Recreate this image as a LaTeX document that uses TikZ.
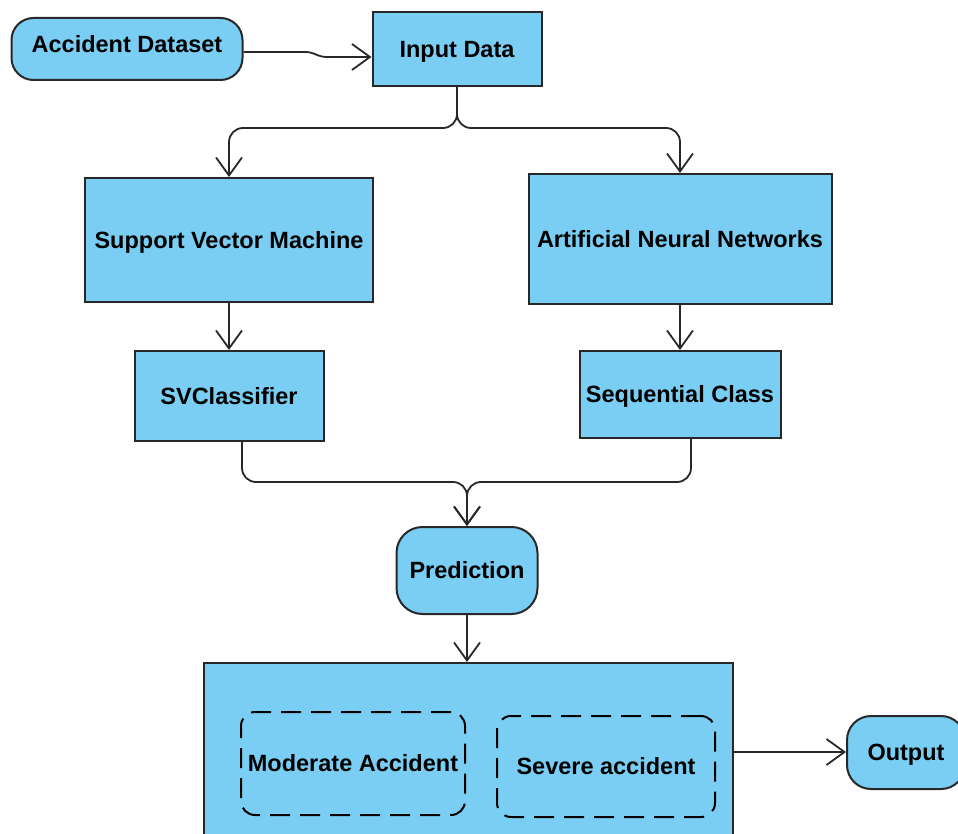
\documentclass[tikz,border=0pt]{standalone}
\usepackage{fontspec}
\setmainfont{Liberation Sans}
\usetikzlibrary{arrows.meta,calc}
\definecolor{boxblue}{RGB}{122,206,244}
\definecolor{edgegray}{RGB}{40,40,40}
\tikzset{
  txt/.style={font=\fontsize{23.5}{28}\selectfont\bfseries, text height=16.8pt, text depth=0pt},
  base/.style={draw=edgegray, fill=boxblue, line width=2pt, txt, inner sep=0pt, text=black, rectangle},
  rectbox/.style={base},
  roundbox/.style={base, rounded corners=22pt},
  dashbox/.style={draw=black, line width=2pt, dash pattern=on 20pt off 10pt, rounded corners=14pt, rectangle, inner sep=0pt, txt},
  conn/.style={draw=edgegray, line width=1.8pt, rounded corners=14pt, -{Straight Barb[length=18pt,width=26pt,line width=1.8pt]}},
}
\begin{document}
\begin{tikzpicture}[x=1pt,y=-1pt]
\useasboundingbox (0,0) rectangle (958,834);
\clip (0,0) rectangle (958,834);
\node[roundbox, minimum width=231pt, minimum height=62pt] (ad) at (127,49) {\raisebox{5pt}{Accident Dataset}};
\node[rectbox, minimum width=169pt, minimum height=74pt] (id) at (457,49) {Input Data};
\node[rectbox, minimum width=288pt, minimum height=124pt] (svm) at (229,240) {Support Vector Machine};
\node[rectbox, minimum width=303pt, minimum height=130pt] (ann) at (680,239) {Artificial Neural Networks};
\node[rectbox, minimum width=189pt, minimum height=90pt] (svc) at (229,396) {SVClassifier};
\node[rectbox, minimum width=201pt, minimum height=87pt] (sc) at (680,394.5) {Sequential Class};
\node[roundbox, rounded corners=26pt, minimum width=141pt, minimum height=87pt] (pred) at (467,570.5) {Prediction};
\node[rectbox, minimum width=529pt, minimum height=190pt] (res) at (468.5,758) {};
\node[dashbox, minimum width=224pt, minimum height=103pt] (mod) at (353,763.5) {Moderate Accident};
\node[dashbox, minimum width=218pt, minimum height=101pt] (sev) at (606,766.5) {Severe accident};
\node[roundbox, rounded corners=24pt, minimum width=118pt, minimum height=73pt] (out) at (906,752.5) {Output};
\coordinate (kinka) at (310,52);
\coordinate (kinkb) at (322,57);
\draw[conn, rounded corners=4pt] (ad.east |- kinka) -- (kinka) -- (kinkb) -- (id.west |- kinkb);
\coordinate (split) at (457,128);
\draw[conn] (id.south) -- (split) -- (svm.north |- split) -- (svm.north);
\draw[conn] (id.south) -- (split) -- (ann.north |- split) -- (ann.north);
\draw[conn] (svm.south) -- (svc.north -| svm.south);
\draw[conn] (ann.south) -- (sc.north -| ann.south);
\coordinate (merge) at (467,482);
\draw[conn] (svc.south -| 242,0) -- (242,482) -- (merge) -- (pred.north);
\draw[conn] (sc.south -| 691,0) -- (691,482) -- (merge) -- (pred.north);
\draw[conn] (pred.south) -- (res.north -| pred.south);
\draw[conn] (res.east |- 0,752) -- (out.west |- 0,752);
\end{tikzpicture}
\end{document}
